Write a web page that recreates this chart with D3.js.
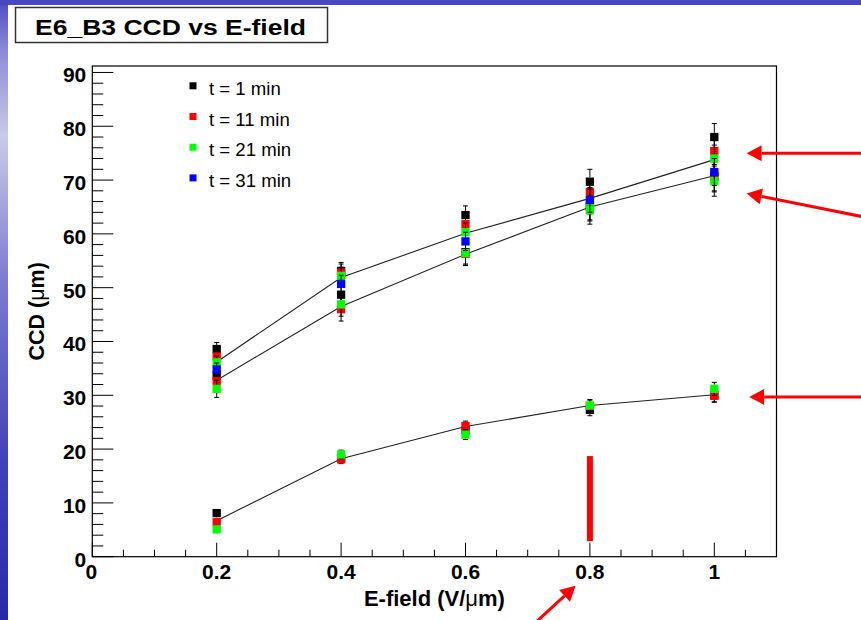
<!DOCTYPE html>
<html lang="en">
<head>
<meta charset="utf-8">
<script src="https://cdnjs.cloudflare.com/ajax/libs/d3/7.8.5/d3.min.js"></script>
<style>
  body { margin: 0; background: #fff; }
  svg { display: block; font-family: "Liberation Sans", Arial, Helvetica, sans-serif; }
</style>
</head>
<body>
<svg width="861" height="620"></svg>
<script>
// E-field points (V/um)
var efield = [0.2, 0.4, 0.6, 0.8, 1.0];

var seriesNames = ["t = 1 min", "t = 11 min", "t = 21 min", "t = 31 min"];
var seriesColors = ["#000000", "#ff0000", "#00ff00", "#0000ff"];

// CCD (um) per time, three branches (null = no point)
var upperT1  = [38.6, 53.1, 63.5, 69.7, 78.0];
var upperT11 = [37.2, 52.8, 61.8, 67.8, 75.4];
var upperT21 = [36.1, 52.2, 60.3, 66.0, 74.0];
var upperT31 = [34.8, 50.7, 58.6, 66.3, 71.5];

var lowerT1  = [33.7, 48.7, 56.6, 65.2, 70.8];
var lowerT11 = [32.6, 46.0, 56.3, 65.0, 70.6];
var lowerT21 = [31.2, 46.9, 56.4, 64.4, 69.8];
var lowerT31 = [null, null, null, null, null];

var bottomT1  = [8.1, 18.3, 23.5, 27.3, 30.0];
var bottomT11 = [6.4, 18.1, 24.3, 28.0, 29.9];
var bottomT21 = [5.1, 19.0, 22.7, 28.1, 31.2];
var bottomT31 = [null, null, null, null, null];

var upperErr  = [1.2, 1.6, 1.7, 2.3, 2.5];
var lowerErr  = [1.6, 2.2, 2.2, 2.6, 2.8];
var bottomErr = [0.6, 0.8, 0.9, 1.1, 1.2];

// connecting lines
var upperLine  = [36.2, 51.9, 60.1, 66.6, 73.8];
var lowerLine  = [32.8, 46.5, 56.2, 65.0, 70.8];
var bottomLine = [6.7, 18.2, 24.2, 28.1, 30.1];

var xTicks = [0, 0.2, 0.4, 0.6, 0.8, 1];
var yTicks = [0, 10, 20, 30, 40, 50, 60, 70, 80, 90];

// annotations (data units)
var markBar = {x: 0.8, y0: 2.9, y1: 18.7};
var arrows = [
  {x0: 1.26, y0: 75.0, x1: 1.052, y1: 75.0},
  {x0: 1.26, y0: 62.7, x1: 1.052, y1: 67.5},
  {x0: 1.26, y0: 29.7, x1: 1.056, y1: 29.7},
  {x0: 0.71, y0: -12.5, x1: 0.777, y1: -5.4}
];

var svg = d3.select("svg");

// slide background
var defs = svg.append("defs");
var grad = defs.append("linearGradient").attr("id", "side")
  .attr("x1", 0).attr("y1", 0).attr("x2", 0).attr("y2", 1);
grad.append("stop").attr("offset", "0%").attr("stop-color", "#4c4ac2");
grad.append("stop").attr("offset", "8%").attr("stop-color", "#8a8ad6");
grad.append("stop").attr("offset", "22%").attr("stop-color", "#cacaea");
grad.append("stop").attr("offset", "45%").attr("stop-color", "#7c7cd0");
grad.append("stop").attr("offset", "75%").attr("stop-color", "#4040b8");
grad.append("stop").attr("offset", "100%").attr("stop-color", "#2a28aa");
svg.append("rect").attr("width", 861).attr("height", 620).attr("fill", "url(#side)");
svg.append("rect").attr("width", 861).attr("height", 5).attr("fill", "#4a48c0");
svg.append("rect").attr("x", 8).attr("y", 5).attr("width", 853).attr("height", 615).attr("fill", "#fff");

// title box
svg.append("rect").attr("x", 15.5).attr("y", 7.5).attr("width", 312).attr("height", 35)
  .attr("fill", "#fff").attr("stroke", "#333").attr("stroke-width", 1.5);
svg.append("text").attr("x", 35).attr("y", 34.5)
  .attr("font-size", 22).attr("font-weight", "bold")
  .attr("textLength", 271).attr("lengthAdjust", "spacingAndGlyphs")
  .text("E6_B3 CCD vs E-field");

var plotL = 92.3, plotR = 776.5, plotT = 66, plotB = 556.7;
var x = d3.scaleLinear().domain([0, 1.1]).range([plotL, plotR]);
var y = d3.scaleLinear().domain([0, 91.2]).range([plotB, plotT]);

var g = svg.append("g");

// ticks
var yMinor = d3.range(0, 90.01, 2);
g.selectAll(".ymin").data(yMinor).enter().append("line")
  .attr("x1", plotL).attr("x2", function(d) { return d % 10 === 0 ? plotL + 21 : plotL + 11; })
  .attr("y1", function(d) { return y(d); }).attr("y2", function(d) { return y(d); })
  .attr("stroke", "#000").attr("stroke-width", 1);
var xMinor = d3.range(0, 1.101, 0.05);
g.selectAll(".xmin").data(xMinor).enter().append("line")
  .attr("x1", function(d) { return x(d); }).attr("x2", function(d) { return x(d); })
  .attr("y1", plotB).attr("y2", function(d) { return Math.abs(d * 5 - Math.round(d * 5)) < 1e-6 ? plotB - 14 : plotB - 7; })
  .attr("stroke", "#000").attr("stroke-width", 1);

// frame
g.append("rect").attr("x", plotL).attr("y", plotT).attr("width", plotR - plotL).attr("height", plotB - plotT)
  .attr("fill", "none").attr("stroke", "#000").attr("stroke-width", 1.2);

// tick labels
g.selectAll(".ylab").data(yTicks).enter().append("text")
  .attr("x", plotL - 6).attr("y", function(d) { return y(d) + 10; })
  .attr("text-anchor", "end").attr("font-size", 21).attr("font-weight", "bold")
  .text(function(d) { return d; });
g.selectAll(".xlab").data(xTicks).enter().append("text")
  .attr("x", function(d) { return x(d) - (d === 0 ? 1 : 0); }).attr("y", plotB + 22)
  .attr("text-anchor", "middle").attr("font-size", 21).attr("font-weight", "bold")
  .text(function(d) { return d; });

// axis titles
g.append("text").attr("x", (plotL + plotR) / 2).attr("y", 606)
  .attr("text-anchor", "middle").attr("font-size", 22).attr("font-weight", "bold")
  .html("E-field (V/<tspan font-weight='normal'>\u03bc</tspan>m)");
g.append("text").attr("transform", "translate(44," + ((plotT + plotB) / 2) + ") rotate(-90)")
  .attr("text-anchor", "middle").attr("font-size", 21.5).attr("font-weight", "bold")
  .html("CCD (<tspan font-weight='normal'>\u03bc</tspan>m)");

// connecting lines
var line = d3.line().x(function(d, i) { return x(efield[i]); }).y(function(d) { return y(d); });
[upperLine, lowerLine, bottomLine].forEach(function(arr) {
  g.append("path").datum(arr).attr("d", line)
    .attr("fill", "none").attr("stroke", "#222").attr("stroke-width", 1.1);
});

// points, one series at a time: error bars then markers
var groups = [
  [upperT1, lowerT1, bottomT1],
  [upperT11, lowerT11, bottomT11],
  [upperT21, lowerT21, bottomT21],
  [upperT31, lowerT31, bottomT31]
];
var errs = [upperErr, lowerErr, bottomErr];
var ms = 8.3;

groups.forEach(function(branches, s) {
  var pts = [];
  branches.forEach(function(arr, b) {
    arr.forEach(function(v, i) {
      if (v !== null) pts.push({x: efield[i], v: v, e: errs[b][i]});
    });
  });
  var sg = g.append("g");
  var eb = sg.selectAll(".err").data(pts).enter().append("g").attr("stroke", "#000").attr("stroke-width", 1);
  eb.append("line")
    .attr("x1", function(d) { return x(d.x); }).attr("x2", function(d) { return x(d.x); })
    .attr("y1", function(d) { return y(d.v + d.e); }).attr("y2", function(d) { return y(d.v) - ms / 2; });
  eb.append("line")
    .attr("x1", function(d) { return x(d.x); }).attr("x2", function(d) { return x(d.x); })
    .attr("y1", function(d) { return y(d.v - d.e); }).attr("y2", function(d) { return y(d.v) + ms / 2; });
  eb.append("line")
    .attr("x1", function(d) { return x(d.x) - 2.5; }).attr("x2", function(d) { return x(d.x) + 2.5; })
    .attr("y1", function(d) { return y(d.v + d.e); }).attr("y2", function(d) { return y(d.v + d.e); });
  eb.append("line")
    .attr("x1", function(d) { return x(d.x) - 2.5; }).attr("x2", function(d) { return x(d.x) + 2.5; })
    .attr("y1", function(d) { return y(d.v - d.e); }).attr("y2", function(d) { return y(d.v - d.e); });
  sg.selectAll(".pt").data(pts).enter().append("rect")
    .attr("x", function(d) { return x(d.x) - ms / 2; })
    .attr("y", function(d) { return y(d.v) - ms / 2; })
    .attr("width", ms).attr("height", ms)
    .attr("fill", seriesColors[s]);
});

// legend
var leg = g.selectAll(".leg").data(seriesNames).enter().append("g")
  .attr("transform", function(d, i) { return "translate(193," + (85.8 + i * 30.7) + ")"; });
leg.append("rect").attr("x", -3.5).attr("y", -3.5).attr("width", 7).attr("height", 7)
  .attr("fill", function(d, i) { return seriesColors[i]; });
leg.append("text").attr("x", 16).attr("y", 9).attr("font-size", 18.6)
  .text(function(d) { return d; });

// red annotations
svg.append("rect")
  .attr("x", x(markBar.x) - 3).attr("y", y(markBar.y1))
  .attr("width", 6).attr("height", y(markBar.y0) - y(markBar.y1))
  .attr("fill", "#ff0000");

arrows.forEach(function(a) {
  var x0 = x(a.x0), y0 = y(a.y0), x1 = x(a.x1), y1 = y(a.y1);
  var ang = Math.atan2(y1 - y0, x1 - x0);
  var L = 15, W = 8;
  var bx = x1 - L * Math.cos(ang), by = y1 - L * Math.sin(ang);
  svg.append("line").attr("x1", x0).attr("y1", y0).attr("x2", bx).attr("y2", by)
    .attr("stroke", "#ff0000").attr("stroke-width", 3);
  var p = [[x1, y1],
           [bx + W * Math.sin(ang), by - W * Math.cos(ang)],
           [bx - W * Math.sin(ang), by + W * Math.cos(ang)]];
  svg.append("path").attr("d", "M" + p.join("L") + "Z").attr("fill", "#ff0000");
});
</script>
</body>
</html>
